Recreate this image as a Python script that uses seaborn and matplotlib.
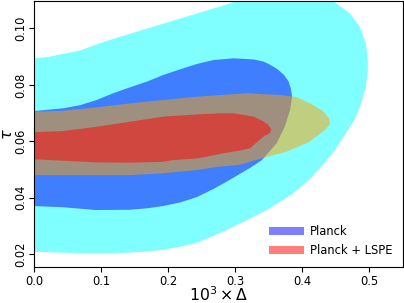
import matplotlib
matplotlib.use("Agg")
import matplotlib.pyplot as plt
import seaborn as sns
from matplotlib.patches import Patch

# ---- contour boundaries (Delta*1e3, tau) ----
planck95_delta = [0.000, 0.024, 0.044, 0.069, 0.093, 0.118, 0.143, 0.168, 0.193, 0.218, 0.243,
                  0.277, 0.308, 0.340, 0.380, 0.420,
                  0.444, 0.471, 0.486, 0.495, 0.498, 0.498, 0.495, 0.488, 0.478, 0.465, 0.449,
                  0.431, 0.410, 0.383, 0.347, 0.311, 0.277, 0.253, 0.243, 0.218, 0.192, 0.168,
                  0.143, 0.093, 0.043, 0.000]
planck95_tau = [0.0894, 0.0900, 0.0910, 0.0922, 0.0943, 0.0963, 0.0981, 0.0999, 0.1017, 0.1035, 0.1053,
                0.1077, 0.1101, 0.1120, 0.1130, 0.1115,
                0.1101, 0.1054, 0.1006, 0.0947, 0.0888, 0.0852, 0.0793, 0.0734, 0.0675, 0.0629, 0.0569,
                0.0516, 0.0462, 0.0409, 0.0356, 0.0313, 0.0274, 0.0250, 0.0240, 0.0226, 0.0215, 0.0209,
                0.0205, 0.0202, 0.0205, 0.0208]

planck68_delta = [0.000, 0.044, 0.069, 0.093, 0.118, 0.143, 0.168, 0.193, 0.218, 0.243, 0.268,
                  0.298, 0.328, 0.343, 0.353, 0.363, 0.373, 0.380, 0.383, 0.385,
                  0.382, 0.374, 0.362, 0.340, 0.322, 0.307, 0.289, 0.268, 0.243, 0.218,
                  0.192, 0.168, 0.143, 0.093, 0.043, 0.000]
planck68_tau = [0.0707, 0.0717, 0.0728, 0.0746, 0.0770, 0.0791, 0.0811, 0.0835, 0.0855, 0.0874, 0.0888,
                0.0894, 0.0890, 0.0882, 0.0870, 0.0856, 0.0835, 0.0811, 0.0788, 0.0758,
                0.0711, 0.0651, 0.0593, 0.0533, 0.0505, 0.0484, 0.0459, 0.0431, 0.0402, 0.0383,
                0.0370, 0.0362, 0.0357, 0.0356, 0.0366, 0.0370]

lspe95_delta = [0.000, 0.043, 0.093, 0.143, 0.192, 0.243, 0.317, 0.368, 0.392, 0.417, 0.432,
                0.440, 0.442, 0.434, 0.411, 0.377, 0.339, 0.307, 0.277, 0.243, 0.192, 0.143,
                0.093, 0.043, 0.000]
lspe95_tau = [0.0705, 0.0708, 0.0720, 0.0734, 0.0746, 0.0758, 0.0770, 0.0764, 0.0756, 0.0728, 0.0705,
              0.0681, 0.0661, 0.0640, 0.0598, 0.0563, 0.0539, 0.0516, 0.0510, 0.0498, 0.0486, 0.0480,
              0.0480, 0.0480, 0.0480]

lspe68_delta = [0.000, 0.043, 0.093, 0.143, 0.192, 0.243, 0.277, 0.298, 0.328, 0.343, 0.349, 0.354,
                0.352, 0.342, 0.322, 0.307, 0.277, 0.257, 0.243, 0.207, 0.192, 0.143, 0.093, 0.043, 0.000]
lspe68_tau = [0.0632, 0.0636, 0.0651, 0.0669, 0.0687, 0.0695, 0.0699, 0.0699, 0.0687, 0.0669, 0.0659, 0.0643,
              0.0629, 0.0616, 0.0575, 0.0567, 0.0555, 0.0545, 0.0539, 0.0533, 0.0527, 0.0524, 0.0525, 0.0531,
              0.0536]

series_labels = ["Planck", "Planck + LSPE"]
x_ticks = [0.0, 0.1, 0.2, 0.3, 0.4, 0.5]
y_ticks = [0.02, 0.04, 0.06, 0.08, 0.10]

sns.set_style("ticks", {"axes.edgecolor": "black", "xtick.color": "black", "ytick.color": "black",
                        "text.color": "black", "axes.labelcolor": "black"})
plt.rcParams["font.family"] = ["DejaVu Sans"]

fig = plt.figure(figsize=(4.04, 3.03), dpi=100)
ax = fig.add_axes([34 / 404, 35.7 / 303, 368.7 / 404, 266.8 / 303])

ax.fill(planck95_delta, planck95_tau, color="#00ffff", alpha=0.5, lw=0)
ax.fill(planck68_delta, planck68_tau, color="#0000ff", alpha=0.5, lw=0)
ax.fill(lspe95_delta, lspe95_tau, color="#ffa000", alpha=0.5, lw=0)
ax.fill(lspe68_delta, lspe68_tau, color="#ff0000", alpha=0.5, lw=0)

ax.set_xlim(0, 0.55)
ax.set_ylim(0.0153, 0.1099)
ax.set_xticks(x_ticks)
ax.set_yticks(y_ticks)
ax.tick_params(length=3.5, width=0.8)
ax.tick_params(axis="x", pad=2)
ax.tick_params(axis="y", pad=1.5)
ax.set_xticklabels([f"{v:.1f}" for v in x_ticks], fontsize=8.3)
ax.set_yticklabels([f"{v:.2f}" for v in y_ticks], fontsize=8.3, rotation=90, va="center")
ax.set_xlabel(r"$10^3 \times \Delta$", fontsize=11.3, va="baseline")
ax.set_ylabel(r"$\tau$", fontsize=11.5)
ax.xaxis.set_label_coords(0.5, -0.128)
ax.yaxis.set_label_coords(-0.052, 0.5)
for s in ax.spines.values():
    s.set_visible(True)
    s.set_linewidth(0.8)

handles = [Patch(facecolor="#0000ff", alpha=0.5, lw=0), Patch(facecolor="#ff0000", alpha=0.5, lw=0)]
ax.legend(handles, series_labels, loc="lower right", frameon=False, fontsize=8.3,
          handlelength=3, handletextpad=0.5)

fig.savefig("out.png", dpi=100)
